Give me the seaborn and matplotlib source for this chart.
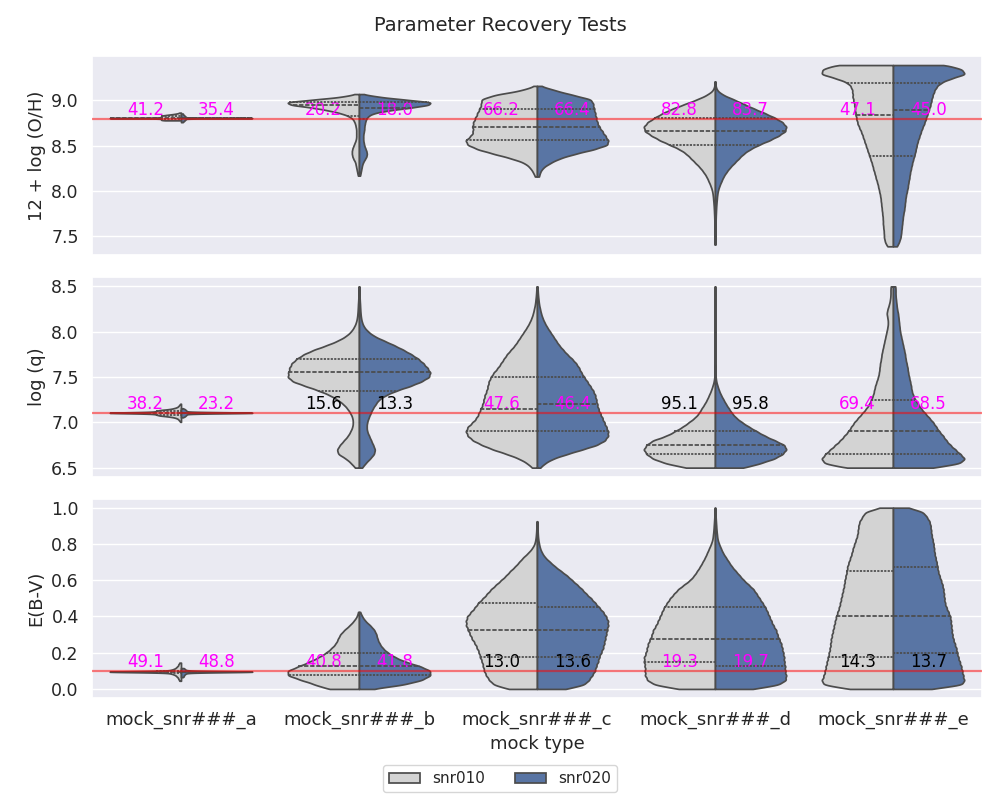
import numpy as np
import pandas as pd
import matplotlib
matplotlib.use("Agg")
import matplotlib.pyplot as plt
from matplotlib.ticker import MultipleLocator
import seaborn as sns

# ---------------- data ----------------
mocks = ["mock_snr###_a", "mock_snr###_b", "mock_snr###_c", "mock_snr###_d", "mock_snr###_e"]
snrs = ["snr010", "snr020"]
param_labels = ["12 + log (O/H)", "log (q)", "E(B-V)"]
true_values = [8.8, 7.1, 0.1]
y_tick_steps = [0.5, 0.5, 0.2]

# percentile of the true value in each posterior (mock-major, snr-minor)
pct_oh = [41.2, 35.4, 20.2, 18.0, 66.2, 66.4, 82.8, 83.7, 47.1, 45.0]
pct_q = [38.2, 23.2, 15.6, 13.3, 47.6, 46.4, 95.1, 95.8, 69.4, 68.5]
pct_ebv = [49.1, 48.8, 40.8, 41.8, 13.0, 13.6, 19.3, 19.7, 14.3, 13.7]

# posterior profiles: (first value, spacing, relative density)
oh_profiles = {
    (0, "snr010"): (8.780, 0.005, [20, 22, 22, 22, 24, 100, 24, 22, 22, 22, 22, 20, 16, 12, 8, 5, 3, 2]),
    (0, "snr020"): (8.760, 0.005, [2, 2, 3, 3, 4, 4, 5, 5, 6, 100, 6, 5, 5, 4, 4, 3, 3, 2, 2, 2]),
    (1, "snr010"): (8.17, 0.03, [1, 1.5, 2, 2.5, 3, 3.5, 5, 6, 6.5, 6.5,
                                 6, 5, 4, 3, 2.5, 2.5, 2.5, 2.5, 3, 3.5,
                                 4.5, 6, 10, 17, 28, 42, 62, 68, 40, 15, 3]),
    (1, "snr020"): (8.17, 0.03, [1, 1.5, 2, 2.5, 3, 4, 5.5, 7, 7.5, 7,
                                 6, 5, 4.5, 4, 4, 4, 4.5, 5, 5, 5.5,
                                 6, 7, 9, 14, 28, 49, 66, 70, 42, 18, 3]),
    (2, "snr010"): (8.16, 0.05, [2, 4, 7, 12, 25, 42, 58, 68, 70, 64, 62,
                                 63, 62, 60, 58, 56, 54, 55, 42, 15, 2]),
    (2, "snr020"): (8.16, 0.05, [2, 3, 6, 13, 22, 37, 56, 70, 70, 67, 64,
                                 61, 59, 58, 57, 56, 55, 54, 35, 18, 3]),
    (3, "snr010"): (7.41, 0.05, [0.5, 0.5, 0.5, 0.5, 0.5, 0.6, 0.7, 0.9, 1.1, 1.4,
                                 1.8, 2.2, 3, 4.5, 6.5, 8.5, 11.5, 15, 19.5, 24,
                                 28.5, 35, 45, 55, 63, 70, 71, 67, 60, 52,
                                 42, 30, 18, 8, 2, 0.5, 0.3]),
    (3, "snr020"): (7.41, 0.05, [0.5, 0.5, 0.5, 0.5, 0.5, 0.6, 0.7, 0.9, 1.1, 1.4,
                                 1.8, 2.2, 3, 4.5, 6.5, 8.5, 11.5, 15, 19.5, 24,
                                 28.5, 35, 44, 55, 64, 71, 72, 68, 60, 50,
                                 39, 29, 19, 8, 2, 0.5, 0.3]),
    (4, "snr010"): (7.39, 0.05, [6, 8, 9, 9, 9.5, 10, 10, 10.5, 11, 11.5,
                                 12, 12.5, 13.5, 14.5, 15.5, 17, 18, 19.5, 20.5, 22,
                                 23.5, 25, 26.5, 28, 29.5, 31, 33, 35, 36, 37,
                                 37.5, 38, 39, 40, 40, 41, 44, 55, 72, 70, 60]),
    (4, "snr020"): (7.39, 0.05, [4, 6, 7.5, 8, 8.5, 9, 9.5, 10, 11, 11.5,
                                 12, 12.5, 13.5, 14.5, 15, 16, 16.5, 17.5, 18.5, 19.5,
                                 21, 22, 23, 24, 25.5, 27, 28.5, 30.5, 32, 33.5,
                                 35, 36.5, 37.5, 38.5, 40, 42, 46, 56, 72, 68, 55]),
}

q_profiles = {
    (0, "snr010"): (7.005, 0.01, [1, 2, 3, 4, 6, 10, 18, 30, 34, 36, 120, 36, 34, 30, 16, 10, 6, 4, 3, 2, 1]),
    (0, "snr020"): (7.055, 0.01, [2, 4, 5, 6, 6, 100, 6, 6, 5, 4, 2]),
    (1, "snr010"): (6.50, 0.05, [4, 8, 13, 21, 22, 19, 15, 11, 8.5, 6.5,
                                 6, 6.5, 8.5, 11.5, 15.5, 21.5, 29, 40, 53, 66,
                                 71, 70, 69, 67, 62, 55, 45, 32, 21, 13,
                                 8, 5, 3, 2, 1.5, 1.2, 1, 0.7, 0.5, 0.4, 0.3]),
    (1, "snr020"): (6.50, 0.05, [3, 6.5, 11, 15, 16, 14, 12, 10, 8, 7.5,
                                 8, 9.5, 11.5, 13.5, 16.5, 19.5, 26.5, 37, 51, 62,
                                 70, 71, 68, 64, 59, 52, 44, 35, 25, 15,
                                 9, 5, 3, 2, 1.5, 1.2, 1, 0.7, 0.5, 0.4, 0.3]),
    (2, "snr010"): (6.50, 0.05, [5, 10, 18, 30, 44, 55, 64, 69, 71, 69,
                                 64, 60, 58, 56, 54, 53, 52, 50, 49, 48,
                                 46, 43, 39, 36, 33, 30, 26, 22, 19, 16,
                                 13, 10, 7.5, 5.5, 4, 3, 2, 1.5, 1, 0.7, 0.4]),
    (2, "snr020"): (6.50, 0.05, [3, 8, 16, 30, 45, 60, 68, 71, 71, 69,
                                 67, 65, 63, 61, 60, 59, 58, 56, 53, 50,
                                 47, 44, 42, 39, 35, 30, 26, 22, 19, 16,
                                 13, 10, 7.5, 5.5, 4, 3, 2, 1.5, 1, 0.7, 0.4]),
    (3, "snr010"): (6.50, 0.05, [30, 50, 62, 68, 71, 68, 62, 48, 40, 32,
                                 26, 20, 16, 13.5, 10.5, 8, 6, 4, 2.5, 1.2,
                                 0.6, 0.4, 0.3, 0.2, 0.2, 0.2, 0.2, 0.2, 0.2, 0.2,
                                 0.2, 0.2, 0.2, 0.2, 0.2, 0.2, 0.2, 0.2, 0.2, 0.2, 0.2]),
    (3, "snr020"): (6.50, 0.05, [30, 46, 60, 68, 72, 70, 60, 50, 42, 34,
                                 27, 21, 17, 14, 11, 8.5, 6, 4, 2.5, 1.2,
                                 0.6, 0.4, 0.3, 0.2, 0.2, 0.2, 0.2, 0.2, 0.2, 0.2,
                                 0.2, 0.2, 0.2, 0.2, 0.2, 0.2, 0.2, 0.2, 0.2, 0.2, 0.2]),
    (4, "snr010"): (6.50, 0.05, [50, 70, 72, 68, 63, 58, 53, 49, 45, 42,
                                 39, 35, 31, 27, 24, 22, 20, 19, 18, 16.5,
                                 15, 14, 13.5, 13, 12, 11.5, 10.5, 9.5, 8.5, 7.5,
                                 6.5, 5.5, 5, 5.5, 6.5, 5.5, 4, 3, 2.5, 2.5, 2.5]),
    (4, "snr020"): (6.50, 0.05, [42, 68, 72, 67, 62, 57, 53, 50, 46, 43,
                                 40, 36, 32, 28, 25, 22, 20, 18.5, 18, 17,
                                 16, 15, 14.5, 13.5, 12.5, 12, 11, 10, 9, 8,
                                 7, 6.5, 6, 5.5, 5, 4, 3.5, 3, 2.5, 2.5, 2.5]),
}

ebv_profiles = {
    (0, "snr010"): (0.045, 0.005, [2, 2, 3, 3, 4, 5, 6, 8, 11, 16, 100, 16, 11, 8, 6, 5, 4, 3, 3, 2, 2]),
    (0, "snr020"): (0.065, 0.005, [2, 3, 3, 4, 5, 8, 100, 8, 5, 4, 3]),
    (1, "snr010"): (0.0, 0.025, [30, 42, 55, 68, 68, 57, 47, 38, 31, 26, 22, 20, 18, 14, 9, 5, 2, 0.8]),
    (1, "snr020"): (0.0, 0.025, [12, 45, 62, 70, 70, 60, 45, 35, 28, 23, 20, 18, 17, 15, 11, 6, 3, 1]),
    (2, "snr010"): (0.0, 0.025, [30, 44, 48, 51, 53, 54, 55, 57, 58, 60,
                                 62, 65, 67, 69, 71, 71, 70, 66, 62, 59,
                                 54, 50, 46, 41, 36, 31, 27, 22, 18, 14,
                                 9, 5, 2.5, 1.5, 1, 0.7, 0.5, 0.3]),
    (2, "snr020"): (0.0, 0.025, [30, 48, 52, 55, 58, 59, 61, 62, 64, 66,
                                 67, 68, 69, 70, 71, 71, 69, 66, 62, 58,
                                 54, 49, 45, 40, 35, 30, 24, 18, 13, 8,
                                 5, 3, 2, 1.2, 0.8, 0.6, 0.4, 0.3]),
    (3, "snr010"): (0.0, 0.025, [38, 62, 68, 70, 70, 70, 71, 71, 69, 68,
                                 67, 65, 63, 62, 59, 57, 55, 53, 51, 48,
                                 45, 41, 37, 31, 25, 21, 18, 15, 12.5, 10,
                                 8, 6, 4, 2.5, 2, 1.5, 1.2, 0.9, 0.6, 0.4, 0.3]),
    (3, "snr020"): (0.0, 0.025, [40, 66, 72, 72, 71, 71, 70, 70, 69, 68,
                                 67, 65, 63, 62, 59, 57, 55, 53, 51, 48,
                                 45, 42, 39, 34, 29, 25, 21, 17, 14, 11,
                                 8, 6, 4, 2.5, 2, 1.5, 1.2, 0.9, 0.6, 0.4, 0.3]),
    (4, "snr010"): (0.0, 0.025, [45, 70, 70, 68, 67, 66, 65, 64, 63, 62,
                                 61.5, 61, 60, 59, 58, 57, 56, 54.5, 53, 52,
                                 51, 50, 49, 48, 47.5, 46.5, 45.5, 45, 43.5, 42,
                                 40.5, 39.5, 38, 36.5, 35, 34.5, 34, 33, 30, 28, 13]),
    (4, "snr020"): (0.0, 0.025, [40, 72, 72, 71, 70, 69, 67.5, 66, 65, 64,
                                 62.5, 61, 60, 59.5, 59, 58.5, 58, 56, 54, 52.5,
                                 52, 51.5, 51, 50, 48.5, 47, 45.5, 45, 44, 43,
                                 42, 41.5, 41, 40, 39, 38.5, 38, 37, 34, 31, 16]),
}


def expand(start, step, widths):
    """Turn a read density profile into a sample table (values repeated by weight)."""
    vals = np.round(start + step * np.arange(len(widths)), 4)
    counts = np.round(np.asarray(widths, dtype=float) * 10).astype(int)
    return np.repeat(vals, counts)


def build_frame(profiles):
    rows = []
    for (i, snr), (start, step, widths) in profiles.items():
        samples = expand(start, step, widths)
        rows.append(pd.DataFrame({"mock": mocks[i], "snr": snr, "value": samples}))
    return pd.concat(rows, ignore_index=True)


def bw_spacing(kde):
    d = np.asarray(kde.dataset).ravel()
    u = np.unique(d)
    step = np.min(np.diff(u)) if len(u) > 1 else 1.0
    return 0.55 * step / d.std(ddof=1)


# ---------------- plotting ----------------
sns.set_theme(style="darkgrid")
plt.rcParams["font.family"] = ["DejaVu Sans"]

palette = {"snr010": "lightgray", "snr020": "#4c72b0"}

fig, axes = plt.subplots(3, 1, figsize=(10, 8), dpi=100, sharex=True)
fig.subplots_adjust(left=0.092, right=0.982, top=0.93, bottom=0.1275, hspace=0.11)

panels = [oh_profiles, q_profiles, ebv_profiles]
pcts = [pct_oh, pct_q, pct_ebv]

handles, labels = None, None
for ax, prof, lab, tv, pct, tstep in zip(axes, panels, param_labels, true_values, pcts, y_tick_steps):
    df = build_frame(prof)
    sns.violinplot(data=df, x="mock", y="value", hue="snr", order=mocks, hue_order=snrs,
                   split=True, inner="quart", cut=0, density_norm="width",
                   palette=palette, bw_method=bw_spacing, gridsize=250, ax=ax)
    ax.axhline(tv, color="red", alpha=0.5, lw=1.6, zorder=3)
    for i in range(len(mocks)):
        for j in range(len(snrs)):
            v = pct[2 * i + j]
            ax.text(i + (-0.2 if j == 0 else 0.2), tv, f"{v:.1f}", ha="center", va="bottom",
                    fontsize=12, color="magenta" if 16 <= v <= 84 else "black", zorder=1.5)
    ax.yaxis.set_major_locator(MultipleLocator(tstep))
    ax.set_ylabel(lab, fontsize=13)
    ax.set_xlabel("")
    ax.tick_params(axis="x", labelsize=13)
    ax.tick_params(axis="y", labelsize=12.5)
    leg = ax.get_legend()
    if leg is not None:
        if handles is None:
            handles = leg.legend_handles
            labels = [t.get_text() for t in leg.get_texts()]
        leg.remove()

axes[-1].set_xlabel("mock type", fontsize=13)
fig.align_ylabels(axes)
fig.suptitle("Parameter Recovery Tests", fontsize=14, y=0.98)
fig.legend(handles, labels, loc="lower center", bbox_to_anchor=(0.5, 0.0), ncol=2,
           fontsize=11, facecolor="white", frameon=True)

fig.savefig("out.png", dpi=100)
